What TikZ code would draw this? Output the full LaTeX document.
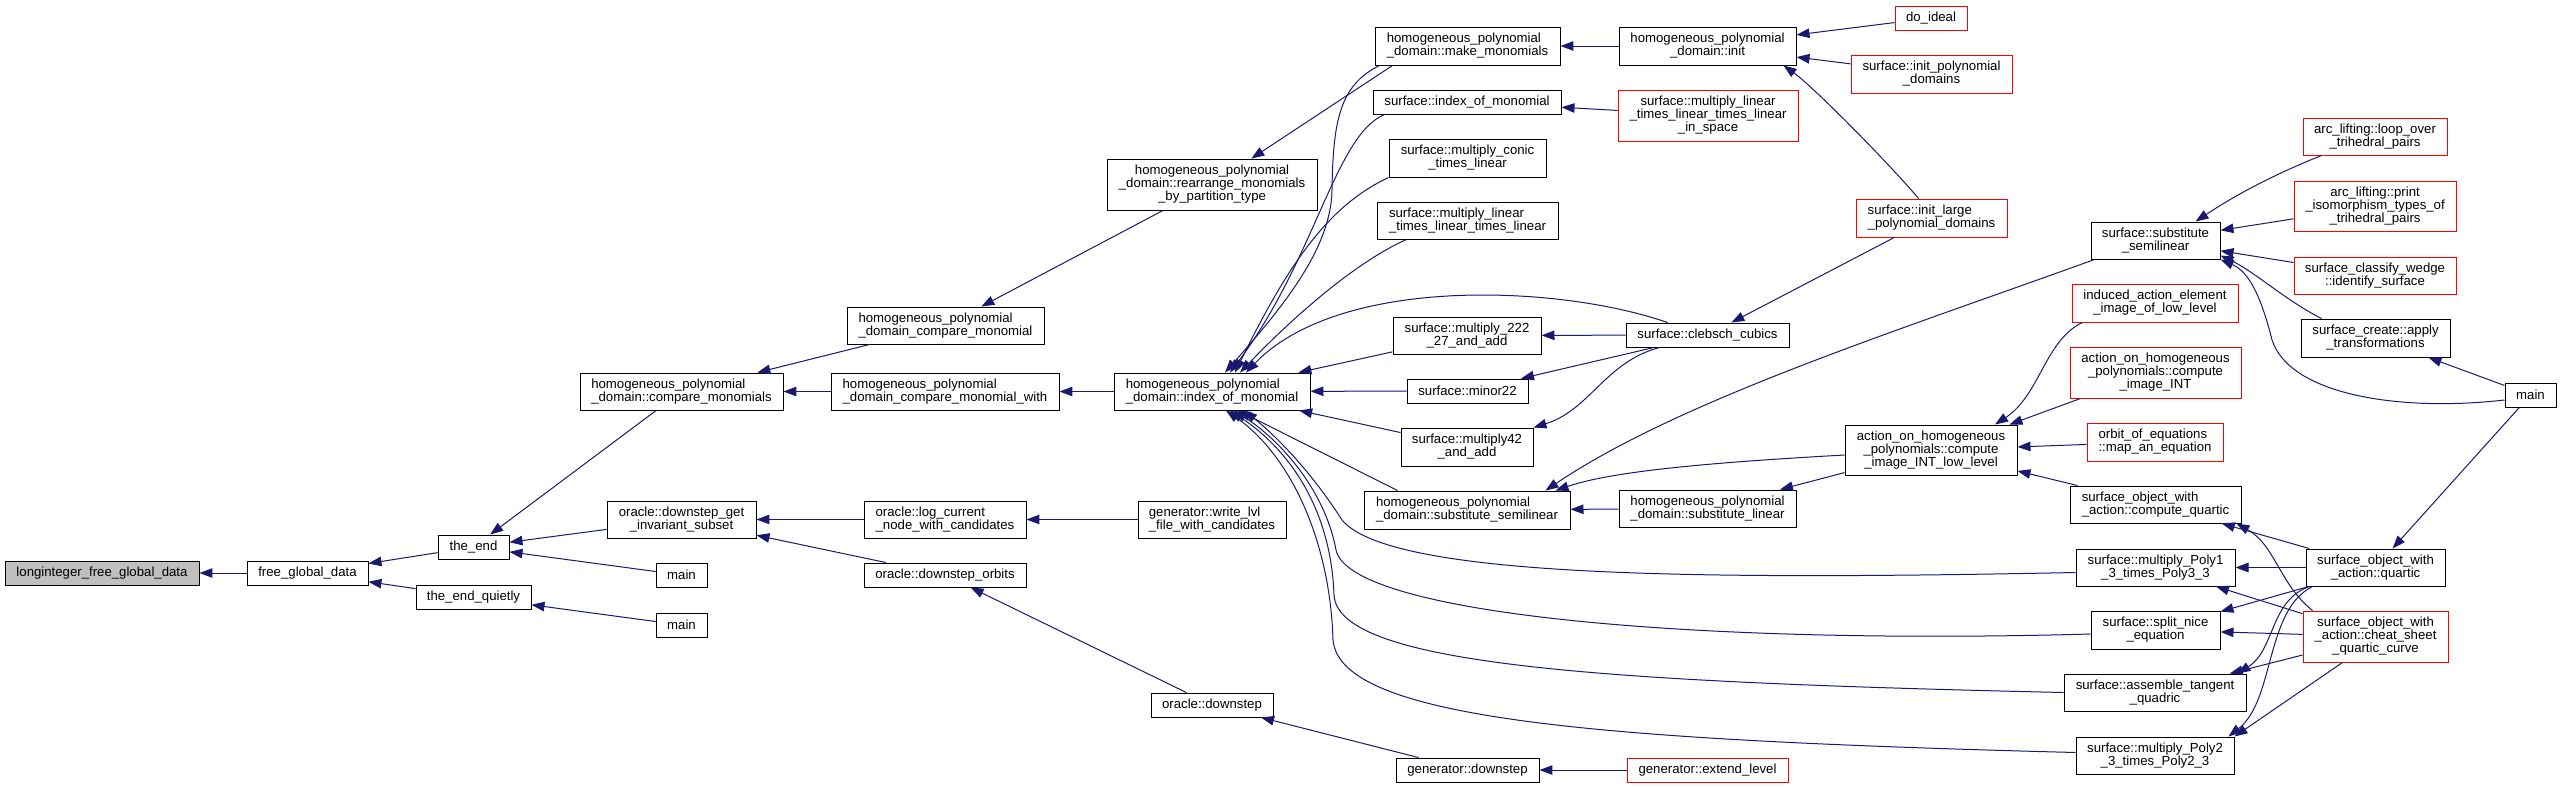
\documentclass[tikz,border=0pt]{standalone}
\usepackage{fontspec}
\setmainfont{Liberation Sans}
\usetikzlibrary{arrows.meta}
\definecolor{edgeblue}{HTML}{191970}
\definecolor{rootgray}{HTML}{BFBFBF}

\begin{document}
\begin{tikzpicture}[
  x=1pt, y=-1pt,
  fn/.style={draw=black, line width=0.95pt, fill=white, inner sep=0pt,
    font=\fontsize{13.2}{13}\selectfont, align=center},
  fnred/.style={fn, draw=red},
  fnroot/.style={fn, fill=rootgray},
  boxsize/.style 2 args={minimum width=#1pt, minimum height=#2pt},
  call/.style={draw=edgeblue, line width=1pt,
    -{Triangle[length=13pt, width=9.5pt]}}
]
  \path[fill=white, use as bounding box] (0,0) rectangle (2561,788);

  % functions, left to right
  \node[fnroot, boxsize={194}{24}] (n_longint) at (102,573) {longinteger\_free\_global\_data};
  \node[fn, boxsize={121}{24}] (n_freeglob) at (307.5,573) {free\_global\_data};
  \node[fn, boxsize={71}{24}] (n_theend) at (473.5,547) {the\_end};
  \node[fn, boxsize={115}{24}] (n_theendq) at (473.5,597) {the\_end\_quietly};

  \node[fn, boxsize={203}{37}, align=left] (n_cmpmonos) at (681.5,391.5) {homogeneous\_polynomial\\\_domain::compare\_monomials};
  \node[fn, boxsize={149}{37}] (n_dsget) at (681.5,519.5) {oracle::downstep\_get\\\_invariant\_subset};
  \node[fn, boxsize={51}{24}] (n_mainA) at (681.5,575) {main};
  \node[fn, boxsize={51}{24}] (n_mainB) at (681.5,625) {main};

  \node[fn, boxsize={197}{37}, align=left] (n_cmpmono) at (945.5,325.5) {homogeneous\_polynomial\\\_domain\_compare\_monomial};
  \node[fn, boxsize={228}{37}, align=left] (n_cmpwith) at (945,391.5) {homogeneous\_polynomial\\\_domain\_compare\_monomial\_with};
  \node[fn, boxsize={162}{37}, align=left] (n_logcur) at (945,519.5) {oracle::log\_current\\\_node\_with\_candidates};
  \node[fn, boxsize={162}{24}] (n_dsorbits) at (945,575) {oracle::downstep\_orbits};

  \node[fn, boxsize={210}{51}] (n_rearr) at (1212,184.5) {homogeneous\_polynomial\\\_domain::rearrange\_monomials\\\_by\_partition\_type};
  \node[fn, boxsize={196}{37}, align=left] (n_hpindex) at (1212,391.5) {homogeneous\_polynomial\\\_domain::index\_of\_monomial};
  \node[fn, boxsize={148}{37}, align=left] (n_writelvl) at (1212,519.5) {generator::write\_lvl\\\_file\_with\_candidates};
  \node[fn, boxsize={122}{24}] (n_odown) at (1212,705) {oracle::downstep};

  \node[fn, boxsize={185}{38}, align=left] (n_makemono) at (1467.5,46) {homogeneous\_polynomial\\\_domain::make\_monomials};
  \node[fn, boxsize={188}{24}] (n_sindex) at (1467,102) {surface::index\_of\_monomial};
  \node[fn, boxsize={157}{38}] (n_conic) at (1467.5,158) {surface::multiply\_conic\\\_times\_linear};
  \node[fn, boxsize={181}{37}, align=left] (n_lll) at (1467.5,220.5) {surface::multiply\_linear\\\_times\_linear\_times\_linear};
  \node[fn, boxsize={148}{37}] (n_m222) at (1467,335.5) {surface::multiply\_222\\\_27\_and\_add};
  \node[fn, boxsize={121}{24}] (n_minor) at (1467.5,391) {surface::minor22};
  \node[fn, boxsize={132}{38}] (n_m42) at (1467,447) {surface::multiply42\\\_and\_add};
  \node[fn, boxsize={206}{38}, align=left] (n_hpsubsemi) at (1467,510) {homogeneous\_polynomial\\\_domain::substitute\_semilinear};
  \node[fn, boxsize={143}{24}] (n_gdown) at (1467.5,770) {generator::downstep};

  \node[fn, boxsize={177}{38}] (n_init) at (1707.5,46) {homogeneous\_polynomial\\\_domain::init};
  \node[fnred, boxsize={180}{51}] (n_space) at (1708,115.5) {surface::multiply\_linear\\\_times\_linear\_times\_linear\\\_in\_space};
  \node[fn, boxsize={163}{24}] (n_clebsch) at (1707.5,335) {surface::clebsch\_cubics};
  \node[fn, boxsize={177}{37}] (n_hpsublin) at (1707.5,508.5) {homogeneous\_polynomial\\\_domain::substitute\_linear};
  \node[fnred, boxsize={161}{24}] (n_extend) at (1707.5,770) {generator::extend\_level};

  \node[fnred, boxsize={72}{24}] (n_doideal) at (1931,18) {do\_ideal};
  \node[fnred, boxsize={161}{38}] (n_initpoly) at (1931.5,74) {surface::init\_polynomial\\\_domains};
  \node[fnred, boxsize={151}{38}, align=left] (n_initlarge) at (1931.5,218) {surface::init\_large\\\_polynomial\_domains};
  \node[fn, boxsize={172}{50}] (n_lowlevel) at (1931,450) {action\_on\_homogeneous\\\_polynomials::compute\\\_image\_INT\_low\_level};

  \node[fn, boxsize={129}{37}] (n_subsemi) at (2155.5,240.5) {surface::substitute\\\_semilinear};
  \node[fnred, boxsize={166}{38}] (n_induced) at (2155,303) {induced\_action\_element\\\_image\_of\_low\_level};
  \node[fnred, boxsize={171}{51}] (n_imageint) at (2155.5,372.5) {action\_on\_homogeneous\\\_polynomials::compute\\\_image\_INT};
  \node[fnred, boxsize={136}{38}, align=left] (n_orbit) at (2155,442) {orbit\_of\_equations\\::map\_an\_equation};
  \node[fn, boxsize={171}{37}, align=left] (n_cquartic) at (2155.5,504.5) {surface\_object\_with\\\_action::compute\_quartic};
  \node[fn, boxsize={159}{37}] (n_poly1) at (2155.5,567.5) {surface::multiply\_Poly1\\\_3\_times\_Poly3\_3};
  \node[fn, boxsize={129}{38}] (n_split) at (2155.5,630) {surface::split\_nice\\\_equation};
  \node[fn, boxsize={182}{37}] (n_assemble) at (2155,692.5) {surface::assemble\_tangent\\\_quadric};
  \node[fn, boxsize={158}{37}] (n_poly2) at (2155,755.5) {surface::multiply\_Poly2\\\_3\_times\_Poly2\_3};

  \node[fnred, boxsize={144}{37}] (n_loop) at (2375,136.5) {arc\_lifting::loop\_over\\\_trihedral\_pairs};
  \node[fnred, boxsize={162}{50}] (n_print) at (2375,206) {arc\_lifting::print\\\_isomorphism\_types\_of\\\_trihedral\_pairs};
  \node[fnred, boxsize={162}{37}] (n_wedge) at (2375,275.5) {surface\_classify\_wedge\\::identify\_surface};
  \node[fn, boxsize={149}{38}] (n_apply) at (2375.5,338) {surface\_create::apply\\\_transformations};
  \node[fn, boxsize={139}{37}] (n_quartic) at (2375.5,567.5) {surface\_object\_with\\\_action::quartic};
  \node[fnred, boxsize={145}{51}] (n_cheat) at (2375.5,636.5) {surface\_object\_with\\\_action::cheat\_sheet\\\_quartic\_curve};
  \node[fn, boxsize={51}{24}] (n_mainC) at (2530.5,395) {main};

  % calls, caller to callee
  \draw[call] (n_freeglob) -- (n_longint);
  \draw[call] (n_theend) -- (n_freeglob);
  \draw[call] (n_theendq) -- (n_freeglob);
  \draw[call] (n_cmpmonos) -- (n_theend);
  \draw[call] (n_dsget) -- (n_theend);
  \draw[call] (n_mainA) -- (n_theend);
  \draw[call] (n_mainB) -- (n_theendq);
  \draw[call] (n_cmpmono) -- (n_cmpmonos);
  \draw[call] (n_cmpwith) -- (n_cmpmonos);
  \draw[call] (n_rearr) -- (n_cmpmono);
  \draw[call] (n_hpindex) -- (n_cmpwith);
  \draw[call] ([xshift=18pt]n_makemono.south west) -- (n_rearr);
  \draw[call] (n_logcur) -- (n_dsget);
  \draw[call] (n_dsorbits) -- (n_dsget);
  \draw[call] (n_writelvl) -- (n_logcur);
  \draw[call] (n_odown) -- (n_dsorbits);
  \draw[call] (n_gdown) -- (n_odown);
  \draw[call] (n_extend) -- (n_gdown);

  % into index_of_monomial
  \draw[call] ([xshift=5pt]n_makemono.south west) .. controls (1340,85) and (1333,120) .. (1332,190)
    .. controls (1331,250) and (1280,310) .. ([xshift=13pt]n_hpindex.north);
  \draw[call] ([xshift=12pt]n_sindex.south west) .. controls (1335,135) and (1315,260) .. ([xshift=18pt]n_hpindex.north);
  \draw[call] (n_conic.south west) .. controls (1330,205) and (1290,260) .. ([xshift=23pt]n_hpindex.north);
  \draw[call] ([xshift=30pt]n_lll.south west) .. controls (1360,260) and (1300,310) .. ([xshift=28pt]n_hpindex.north);
  \draw[call] ([xshift=42pt]n_clebsch.north west) .. controls (1560,285) and (1340,275) .. ([xshift=34pt]n_hpindex.north);
  \draw[call] (n_m222) -- (n_hpindex);
  \draw[call] (n_minor) -- (n_hpindex);
  \draw[call] (n_m42) -- (n_hpindex);
  \draw[call] ([xshift=34pt]n_hpsubsemi.north west) -- ([xshift=26pt]n_hpindex.south);
  \draw[call] ([yshift=-5pt]n_poly1.west) .. controls (1700,580) and (1390,578) .. (1342,520)
    .. controls (1310,470) and (1275,435) .. ([xshift=32pt]n_hpindex.south);
  \draw[call] ([yshift=-4pt]n_split.west) .. controls (1700,645) and (1350,615) .. (1336,550)
    .. controls (1325,490) and (1280,440) .. ([xshift=22pt]n_hpindex.south);
  \draw[call] (n_assemble.west) .. controls (1600,682) and (1338,665) .. (1334,595)
    .. controls (1331,510) and (1290,450) .. ([xshift=18pt]n_hpindex.south);
  \draw[call] ([yshift=3pt]n_poly2.west) .. controls (1600,740) and (1340,720) .. (1333,640)
    .. controls (1330,540) and (1290,455) .. ([xshift=14pt]n_hpindex.south);

  % init and clebsch
  \draw[call] (n_clebsch) -- (n_m222);
  \draw[call] (n_clebsch) -- (n_minor);
  \draw[call] ([xshift=34pt]n_clebsch.south west) .. controls (1605,362) and (1590,410) .. (n_m42.north east);
  \draw[call] (n_init) -- (n_makemono);
  \draw[call] (n_doideal) -- (n_init);
  \draw[call] (n_initpoly) -- (n_init);
  \draw[call] ([xshift=-13pt]n_initlarge.north) .. controls (1895,170) and (1815,88) .. ([xshift=-13pt]n_init.south east);
  \draw[call] (n_initlarge) -- (n_clebsch);
  \draw[call] (n_space) -- (n_sindex);

  % substitute_semilinear
  \draw[call] ([xshift=4pt]n_subsemi.south west) .. controls (1900,330) and (1680,400) .. ([xshift=-25pt]n_hpsubsemi.north east);
  \draw[call] ([yshift=-5pt]n_lowlevel.west) .. controls (1700,463) and (1610,472) .. ([xshift=-15pt]n_hpsubsemi.north east);
  \draw[call] (n_hpsublin) -- (n_hpsubsemi);
  \draw[call] (n_lowlevel) -- (n_hpsublin);
  \draw[call] ([xshift=11pt]n_induced.south west) .. controls (2045,340) and (2040,395) .. ([xshift=64pt]n_lowlevel.north);
  \draw[call] ([xshift=11pt]n_imageint.south west) -- ([xshift=-8pt]n_lowlevel.north east);
  \draw[call] (n_orbit) -- (n_lowlevel);
  \draw[call] (n_cquartic) -- (n_lowlevel);

  % right column
  \draw[call] ([xshift=19pt]n_loop.south west) .. controls (2280,172) and (2240,192) .. ([xshift=40pt]n_subsemi.north);
  \draw[call] (n_print) -- (n_subsemi);
  \draw[call] (n_wedge) -- (n_subsemi);
  \draw[call] ([xshift=21pt]n_apply.north west) .. controls (2285,300) and (2255,272) .. ([yshift=4pt]n_subsemi.south east);
  \draw[call] ([yshift=-5pt]n_mainC.west) .. controls (2400,412) and (2290,395) .. (2272,340)
    .. controls (2262,300) and (2250,272) .. (n_subsemi.south east);
  \draw[call] (n_mainC) -- (n_apply);
  \draw[call] (n_mainC) -- (n_quartic);
  \draw[call] (n_quartic) -- (n_cquartic);
  \draw[call] ([xshift=10pt]n_cheat.north west) .. controls (2280,585) and (2275,545) .. ([xshift=-5pt]n_cquartic.south east);
  \draw[call] (n_quartic) -- (n_poly1);
  \draw[call] (n_cheat) -- (n_poly1);
  \draw[call] (n_quartic) -- (n_split);
  \draw[call] (n_cheat) -- (n_split);
  \draw[call] ([xshift=4pt]n_quartic.south west) .. controls (2270,600) and (2275,650) .. ([xshift=-9pt]n_assemble.north east);
  \draw[call] (n_cheat) -- (n_assemble);
  \draw[call] ([xshift=7pt]n_quartic.south west) .. controls (2265,610) and (2275,700) .. ([xshift=-6pt]n_poly2.north east);
  \draw[call] ([xshift=-33pt]n_cheat.south) -- (n_poly2.north east);
\end{tikzpicture}
\end{document}
